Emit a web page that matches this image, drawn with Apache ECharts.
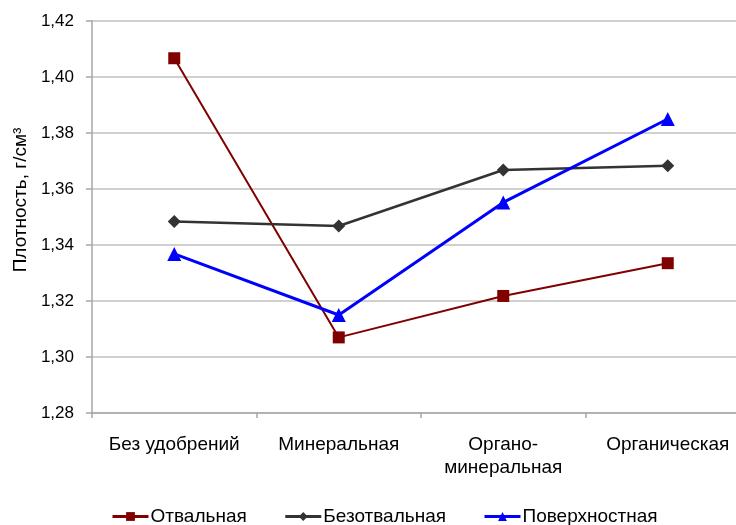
<!DOCTYPE html>
<html>
<head>
<meta charset="utf-8">
<script src="https://cdn.jsdelivr.net/npm/echarts@6/dist/echarts.min.js"></script>
<style>html,body{margin:0;padding:0;background:#fff;overflow:hidden;}#c{width:750px;height:525px;}</style>
</head>
<body>
<div id="c"></div>
<script>
var categories = ['Без удобрений', 'Минеральная', 'Органо-\nминеральная', 'Органическая'];
var otvalnaya = [1.4067, 1.3070, 1.3218, 1.3335];
var bezotvalnaya = [1.3484, 1.3468, 1.3668, 1.3683];
var poverkhnostnaya = [1.3368, 1.3150, 1.3552, 1.3850];
var seriesNames = ['Отвальная', 'Безотвальная', 'Поверхностная'];
var yMin = 1.28, yMax = 1.42, yStep = 0.02;

var chart = echarts.init(document.getElementById('c'));
var font = 'Liberation Sans, Arial, sans-serif';
chart.setOption({
  animation: false,
  textStyle: {fontFamily: font},
  grid: {left: 92, top: 21, bottom: 112, right: 0, containLabel: false},
  legend: {
    top: 502, left: 106,
    itemWidth: 36, itemHeight: 11, itemGap: 37,
    lineStyle: {width: 3},
    textStyle: {fontSize: 19, color: '#000', fontFamily: font, padding: [0,0,0,-3]},
    data: seriesNames
  },
  xAxis: {
    type: 'category', data: categories, boundaryGap: true,
    axisLine: {lineStyle: {color: '#a6a6a6', width: 1.5}},
    axisTick: {show: true, interval: 0, length: 5, lineStyle: {color: '#a6a6a6', width: 1.5}},
    axisLabel: {interval: 0, fontSize: 19, color: '#000', margin: 20, lineHeight: 23, fontFamily: font}
  },
  yAxis: {
    type: 'value', min: yMin, max: yMax, interval: yStep,
    name: 'Плотность, г/см³', nameLocation: 'middle', nameGap: 62, nameRotate: 90,
    nameTextStyle: {fontSize: 19, color: '#000', fontFamily: font, padding: [0,0,0,34]},
    axisLine: {show: true, lineStyle: {color: '#a6a6a6', width: 1.5}},
    axisTick: {show: true, length: 6, lineStyle: {color: '#a6a6a6', width: 1.5}},
    splitLine: {lineStyle: {color: '#c0c0c0', width: 1.5}},
    axisLabel: {fontSize: 17, color: '#000', margin: 18, fontFamily: font,
      formatter: function(v){return v.toFixed(2).replace('.', ',');}}
  },
  series: [
    {name: seriesNames[0], type: 'line', data: otvalnaya, symbol: 'rect', symbolSize: 12,
     itemStyle: {color: '#800000'}, lineStyle: {color: '#800000', width: 2}},
    {name: seriesNames[1], type: 'line', data: bezotvalnaya, symbol: 'diamond', symbolSize: 13,
     itemStyle: {color: '#333333'}, lineStyle: {color: '#333333', width: 2.5}},
    {name: seriesNames[2], type: 'line', data: poverkhnostnaya, symbol: 'triangle', symbolSize: 14,
     itemStyle: {color: '#0000ff'}, lineStyle: {color: '#0000ff', width: 3}}
  ]
});
</script>
</body>
</html>
